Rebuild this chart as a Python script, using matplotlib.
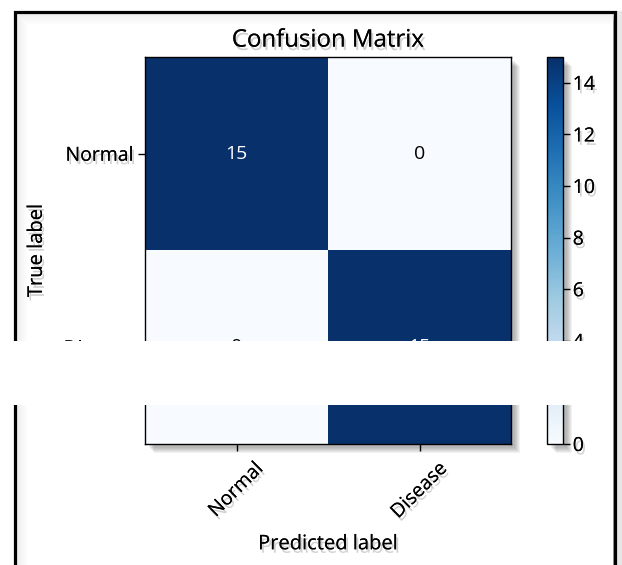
import numpy as np
import matplotlib
matplotlib.use("Agg")
import matplotlib.pyplot as plt
import matplotlib.patheffects as pe
from matplotlib.patches import Rectangle

# Confusion matrix values and class names
classes = ["Normal", "Disease"]
cm = np.array([[15, 0],
               [0, 15]])
cbar_ticks = [0, 2, 4, 6, 8, 10, 12, 14]
title = "Confusion Matrix"

W, H = 622, 565
plt.rcParams["font.family"] = ["Open Sans", "DejaVu Sans"]
fig = plt.figure(figsize=(W / 100, H / 100), dpi=100)


def px(x, y):
    """Pixel coords (from top-left) to figure fraction."""
    return x / W, 1 - y / H


shadow_fx = [pe.withSimplePatchShadow(offset=(1.5, -2.5), shadow_rgbFace="#7a7a7a", alpha=0.35),
             pe.Normal()]

# heatmap and colorbar axes
x0, y0 = px(145, 444)
x1, y1 = px(511, 57)
ax = fig.add_axes([x0, y0, x1 - x0, y1 - y0])
cx0, cy0 = px(547, 444)
cx1, cy1 = px(563, 57)
cax = fig.add_axes([cx0, cy0, cx1 - cx0, cy1 - cy0])


def soft_shadow(l, t, r, b, off=4, steps=6):
    for i in range(steps):
        d = off + i * 0.9
        fx0, fy0 = px(l + d, b + d)
        fx1, fy1 = px(r + d, t + d)
        fig.patches.append(Rectangle((fx0, fy0), fx1 - fx0, fy1 - fy0,
                                     transform=fig.transFigure, facecolor="black",
                                     alpha=0.05, edgecolor="none", zorder=-1))


soft_shadow(145, 57, 511, 444)
soft_shadow(547, 57, 563, 444)

im = ax.imshow(cm, interpolation="nearest", cmap=plt.cm.Blues, aspect="auto", vmin=0, vmax=15)
cb = fig.colorbar(im, cax=cax, ticks=cbar_ticks)
cb.outline.set_linewidth(1.0)
cax.tick_params(labelsize=14, length=5, width=1, pad=2)
for t in cax.get_yticklabels():
    t.set_path_effects(shadow_fx)

ax.set_title(title, fontsize=17.3, pad=7.5, path_effects=shadow_fx)
ticks = np.arange(len(classes))
ax.set_xticks(ticks)
ax.set_yticks(ticks)
ax.set_xticklabels(classes, rotation=45, fontsize=14, ha="center")
ax.set_yticklabels(classes, fontsize=14)
ax.tick_params(length=5, width=1, pad=3)
ax.tick_params(axis="x", pad=6)
for t in ax.get_xticklabels() + ax.get_yticklabels():
    t.set_path_effects(shadow_fx)

thresh = cm.max() / 2.0
for i in range(cm.shape[0]):
    for j in range(cm.shape[1]):
        ax.text(j, i, format(cm[i, j], "d"), ha="center", va="center", fontsize=14,
                color="white" if cm[i, j] > thresh else "black")

ax.set_ylabel("True label", fontsize=14.5, labelpad=12, path_effects=shadow_fx)
ax.set_xlabel("Predicted label", fontsize=14.5, labelpad=9, path_effects=shadow_fx)
for s in ax.spines.values():
    s.set_linewidth(1.0)

# outer frame with inner shading
for i in range(12):
    a = 0.07 * (1 - i / 12)
    fx0, fy0 = px(16 + i, H + 20)
    fx1, fy1 = px(613, 13 + i)
    fig.patches.append(Rectangle((fx0, fy0), fx1 - fx0, fy1 - fy0, transform=fig.transFigure,
                                 facecolor="none", edgecolor="#000000", alpha=a,
                                 linewidth=0.75, zorder=-2))
fx0, fy0 = px(616, H + 20)
fx1, fy1 = px(622, 11)
fig.patches.append(Rectangle((fx0, fy0), fx1 - fx0, fy1 - fy0, transform=fig.transFigure,
                             facecolor="#e6e6e6", edgecolor="none", zorder=-2))
fx0, fy0 = px(15, H + 20)
fx1, fy1 = px(614.5, 12)
fig.patches.append(Rectangle((fx0, fy0), fx1 - fx0, fy1 - fy0, transform=fig.transFigure,
                             facecolor="none", edgecolor="black", linewidth=2.3, zorder=5))

# blank strip across the middle
fx0, fy0 = px(12, 405)
fx1, fy1 = px(613, 341)
fig.patches.append(Rectangle((fx0, fy0), fx1 - fx0, fy1 - fy0, transform=fig.transFigure,
                             facecolor="white", edgecolor="none", zorder=10))

fig.savefig("out.png", dpi=100)
